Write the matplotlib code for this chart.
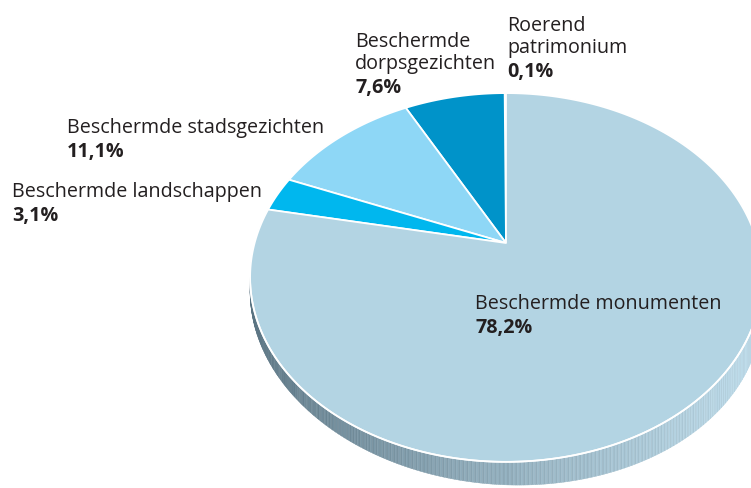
import numpy as np
import matplotlib
matplotlib.use('Agg')
import matplotlib.pyplot as plt
from matplotlib.patches import Polygon
from matplotlib.colors import to_rgb

# ------------------------------------------
# Data: share of protected heritage (counterclockwise from the top)
# ------------------------------------------
names = ['Roerend\npatrimonium', 'Beschermde\ndorpsgezichten', 'Beschermde stadsgezichten',
         'Beschermde landschappen', 'Beschermde monumenten']
shares = [0.1, 7.6, 11.1, 3.1, 78.2]
colors = ['#005f8f', '#0093c9', '#8ed7f6', '#00b7ee', '#b3d4e3']

# label anchor (left x, baseline of first line) in pixels
label_pos = [(507, 31), (355, 47), (67, 133), (12, 197), (475, 309)]

W, H = 751, 488
plt.rcParams['font.family'] = ['Open Sans', 'DejaVu Sans']

fig = plt.figure(figsize=(W / 100, H / 100), dpi=100)
ax = fig.add_axes([0, 0, 1, 1])
ax.set_xlim(0, W)
ax.set_ylim(H, 0)
ax.axis('off')

# perspective projection of a flat disc
cx, cy = 506, 243
D, fx, fy = 5.35, 1345, 952


def project(theta):
    # theta in degrees, measured from the far point, counterclockwise seen from above
    t = np.radians(theta)
    x = -np.sin(t)
    y = np.cos(t)
    return cx + fx * x / (D + y), cy - fy * y / (D + y)


def thickness(X):
    return 23 + 0.035 * (X - cx)


# side of the disc (front arc) with a shaded gradient
th_side = np.linspace(100.8, 259.2, 420)
sx, sy = project(th_side)
dark = np.array(to_rgb('#556e7c'))
light = np.array(to_rgb('#b4d1df'))
for i in range(len(th_side) - 1):
    X0, X1 = sx[i], sx[i + 1]
    quad = [(X0, sy[i]), (X1, sy[i + 1]),
            (X1, sy[i + 1] + thickness(X1)), (X0, sy[i] + thickness(X0))]
    f = np.clip((0.5 * (X0 + X1) - 250) / 500, 0, 1) ** 0.8
    col = dark + (light - dark) * f
    if i % 2:
        col = np.clip(col * 1.07, 0, 1)
    ax.add_patch(Polygon(quad, closed=True, facecolor=col, edgecolor=col, lw=0.3))

# top face wedges
total = sum(shares)
start = 0.0
for share, color in zip(shares, colors):
    span = 360 * share / total
    th = np.linspace(start, start + span, max(3, int(span * 2)))
    px, py = project(th)
    pts = [(cx, cy)] + list(zip(px, py))
    ax.add_patch(Polygon(pts, closed=True, facecolor=color, edgecolor='white',
                         lw=1.3, joinstyle='round'))
    start += span

# white rim line between top face and side
ax.plot(sx, sy, color='white', lw=1.2, solid_capstyle='round')

# labels
fs = 14.2
for name, share, (lx, ly) in zip(names, shares, label_pos):
    lines = name.split('\n')
    for k, line in enumerate(lines):
        ax.text(lx, ly + k * 21.5, line, fontsize=fs, color='#231f20', va='baseline', ha='left')
    pct = f'{share:.1f}%'.replace('.', ',')
    ax.text(lx, ly + (len(lines) - 1) * 21.5 + 24.5, pct, fontsize=fs, fontweight='bold',
            color='#231f20', va='baseline', ha='left')

fig.savefig('out.png', dpi=100)
